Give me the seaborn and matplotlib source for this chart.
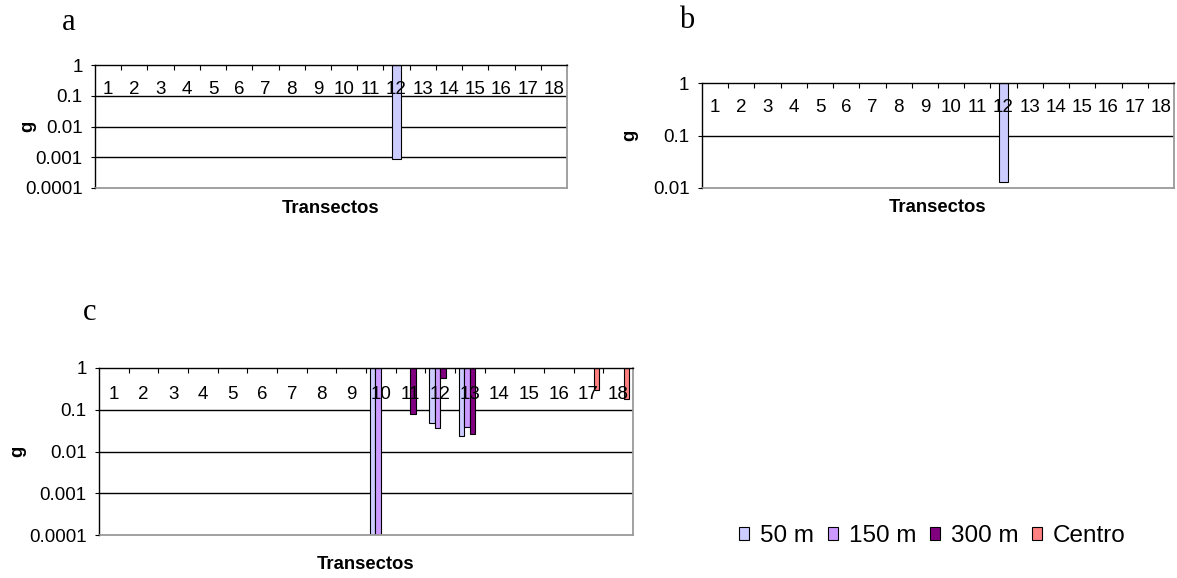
import matplotlib
matplotlib.use("Agg")
import matplotlib.pyplot as plt
import matplotlib.patches as mpatches
import seaborn as sns
import numpy as np
import pandas as pd
from matplotlib.ticker import NullLocator

sns.set_style("white")
plt.rcParams['font.family'] = ['Liberation Sans', 'DejaVu Sans']
plt.rcParams.update({'text.color': 'black', 'axes.labelcolor': 'black',
                     'xtick.color': 'black', 'ytick.color': 'black'})

nan = np.nan

# Data
transectos = ['1', '2', '3', '4', '5', '6', '7', '8', '9',
              '10', '11', '12', '13', '14', '15', '16', '17', '18']
series = ['50 m', '150 m', '300 m', 'Centro']
colores = ['#CCCCFF', '#CC99FF', '#800080', '#FF8080']

# panel a (only 50 m)
a_50m = [nan, nan, nan, nan, nan, nan, nan, nan, nan, nan, nan, 0.0009, nan, nan, nan, nan, nan, nan]
# panel b (only 50 m)
b_50m = [nan, nan, nan, nan, nan, nan, nan, nan, nan, nan, nan, 0.013, nan, nan, nan, nan, nan, nan]
# panel c
c_50m = [nan, nan, nan, nan, nan, nan, nan, nan, nan, 0.0001, nan, 0.047, 0.024, nan, nan, nan, nan, nan]
c_150m = [nan, nan, nan, nan, nan, nan, nan, nan, nan, 0.0001, nan, 0.037, 0.038, nan, nan, nan, nan, nan]
c_300m = [nan, nan, nan, nan, nan, nan, nan, nan, nan, nan, 0.08, 0.57, 0.026, nan, nan, nan, nan, nan]
c_centro = [nan, nan, nan, nan, nan, nan, nan, nan, nan, nan, nan, nan, nan, nan, nan, nan, 0.29, 0.18]

yticks_ac = [0.0001, 0.001, 0.01, 0.1, 1]
ylabels_ac = ['0.0001', '0.001', '0.01', '0.1', '1']
yticks_b = [0.01, 0.1, 1]
ylabels_b = ['0.01', '0.1', '1']


def long_df(dict_series):
    rows = []
    for serie, vals in dict_series.items():
        for t, v in zip(transectos, vals):
            if not np.isnan(v):
                rows.append({'Transectos': t, 'serie': serie, 'g': v})
    df = pd.DataFrame(rows)
    # Excel draws the bars hanging from the top of the axis (g = 1)
    df['caida'] = df['g'] - 1
    return df


def style_axis(ax, yticks, ylabels, lab_pad, xlab_y, ylab_x):
    ax.set_yscale('log')
    ax.set_ylim(yticks[0], yticks[-1])
    ax.set_yticks(yticks, labels=ylabels)
    ax.yaxis.set_minor_locator(NullLocator())
    ax.tick_params(axis='y', which='major', left=True, direction='out',
                   length=3, width=0.8, pad=6, labelsize=13.5, colors='black')

    # category axis on top, labels inside the plot area (drawn over the bars)
    ax.xaxis.tick_top()
    ax.set_xticks(np.arange(0.5, len(transectos) - 1), minor=True)
    ax.tick_params(axis='x', which='major', length=0, direction='in',
                   pad=lab_pad, labelsize=13.5, labelcolor='black')
    ax.tick_params(axis='x', which='minor', top=True, bottom=False,
                   direction='in', length=3.6, width=0.8, color='black')
    ax.set_xlim(-0.5, len(transectos) - 0.5)

    # gridlines behind the bars
    ax.grid(False)
    ax.set_axisbelow(False)
    for y in yticks[1:-1]:
        ax.axhline(y, color='black', linewidth=1, zorder=0.5)

    for s in ['left', 'top']:
        ax.spines[s].set_color('black')
        ax.spines[s].set_linewidth(1)
    for s in ['right', 'bottom']:
        ax.spines[s].set_color('#9a9a9a')
        ax.spines[s].set_linewidth(1.3)

    ax.set_xlabel('Transectos', fontweight='bold', fontsize=13.3, color='black')
    ax.xaxis.set_label_position('bottom')
    ax.xaxis.set_label_coords(0.5, xlab_y)
    ax.set_ylabel('g', fontweight='bold', fontsize=13.3, color='black')
    ax.yaxis.set_label_coords(ylab_x, 0.5)


fig = plt.figure(figsize=(11.77, 5.78), dpi=100)
W, H = 1177, 578

ax_a = fig.add_axes([95 / W, 1 - 188 / H, 472 / W, 123 / H])
ax_b = fig.add_axes([702 / W, 1 - 188 / H, 472 / W, 105 / H])
ax_c = fig.add_axes([99 / W, 1 - 535 / H, 534 / W, 167 / H])

# a
df_a = long_df({'50 m': a_50m})
sns.barplot(data=df_a, x='Transectos', y='caida', order=transectos, color=colores[0],
            saturation=1, width=0.36, bottom=1, edgecolor='black', linewidth=0.8,
            errorbar=None, legend=False, ax=ax_a)
style_axis(ax_a, yticks_ac, ylabels_ac, -23.5, -0.1, -0.125)

# b
df_b = long_df({'50 m': b_50m})
sns.barplot(data=df_b, x='Transectos', y='caida', order=transectos, color=colores[0],
            saturation=1, width=0.37, bottom=1, edgecolor='black', linewidth=0.8,
            errorbar=None, legend=False, ax=ax_b)
style_axis(ax_b, yticks_b, ylabels_b, -24, -0.108, -0.135)

# c
df_c = long_df({'50 m': c_50m, '150 m': c_150m, '300 m': c_300m, 'Centro': c_centro})
sns.barplot(data=df_c, x='Transectos', y='caida', hue='serie', order=transectos,
            hue_order=series, palette=colores, saturation=1, width=0.727, bottom=1,
            edgecolor='black', linewidth=0.8, errorbar=None, legend=False, ax=ax_c)
style_axis(ax_c, yticks_ac, ylabels_ac, -25, -0.128, -0.136)

handles = [mpatches.Patch(facecolor=c, edgecolor='black', linewidth=0.8, label=s)
           for s, c in zip(series, colores)]
fig.legend(handles=handles, loc='center left', bbox_to_anchor=(739 / W, 1 - 536 / H),
           ncol=4, frameon=False, fontsize=17.5, handlelength=0.42, handleheight=0.42,
           handletextpad=0.45, columnspacing=0.55, borderpad=0, borderaxespad=0)

# panel letters
fig.text(69 / W, 1 - 22 / H, 'a', family='Liberation Serif', fontsize=22, ha='center', va='center')
fig.text(687 / W, 1 - 20 / H, 'b', family='Liberation Serif', fontsize=22, ha='center', va='center')
fig.text(90 / W, 1 - 312 / H, 'c', family='Liberation Serif', fontsize=22, ha='center', va='center')

fig.savefig('out.png', dpi=100)
